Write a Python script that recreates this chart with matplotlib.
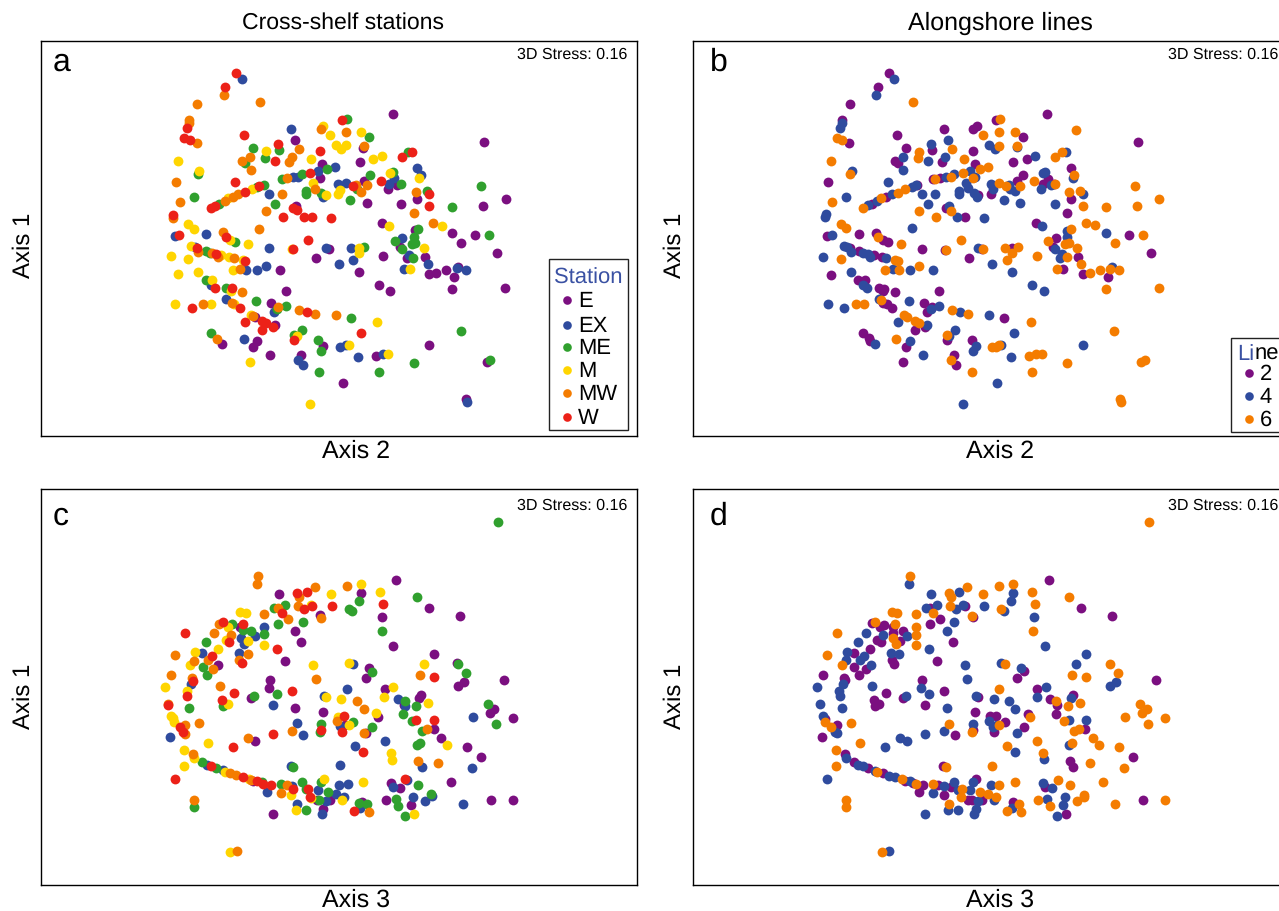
import matplotlib
matplotlib.use("Agg")
import matplotlib.pyplot as plt
from matplotlib.patches import Rectangle
from matplotlib.lines import Line2D

plt.rcParams['font.family'] = ['Liberation Sans', 'DejaVu Sans']
plt.rcParams['text.hinting'] = 'no_hinting'
plt.rcParams['text.hinting_factor'] = 1

W, H = 1279, 911

# values, in arbitrary ordination units (axis 1 runs downward)
a_e = [(730,161),(1003,245),(435,240),(640,264),(630,306),(516,313),(510,353),(641,364),(713,386),(740,376),(650,430),(753,431),(801,418),(999,439),(1067,417),(437,438),
       (697,489),(907,518),(975,526),(934,548),(1041,578),(795,510),(750,560),(824,590),(771,594),(700,587),(499,593),(538,566),(391,630),(627,636),(837,643),(858,640),(889,629),(925,620),(912,651),(906,686),(1066,683),(686,675),(721,692),(407,692),(364,729),(316,770),(374,795),(322,842),(310,862),(216,852),(360,885),(452,884),(518,859),(678,887),(838,854),(1012,907),(580,969),(949,1016)]
a_ex = [(275,57),(424,208),(428,350),(444,352),(503,333),(555,322),(565,372),(589,368),(358,402),(520,411),(802,324),(812,345),(733,355),(718,372),
        (75,527),(169,522),(134,560),(356,565),(527,563),(604,564),(757,534),(777,584),(288,629),(320,629),(347,617),(568,611),(610,601),(761,628),(834,611),(921,624),(947,631),(183,676),(228,716),(372,757),(281,838),(571,860),(587,855),(625,890),(698,881),(443,900),(459,915),(951,1025)]
a_me = [(592,176),(658,231),(310,264),(388,271),(346,294),(144,342),(285,310),(457,342),(532,328),(397,358),(343,374),(320,381),(207,431),(132,410),(375,433),(467,392),(467,402),(512,400),(601,421),(621,388),(660,344),(728,336),(754,372),(775,275),(831,393),(993,379),(907,441),
        (1017,524),(803,508),(791,530),(735,542),(755,566),(795,548),(785,553),(790,593),(643,562),(255,546),(168,574),(180,580),(167,661),(228,685),(318,722),(407,737),(382,748),(604,774),(457,809),(432,824),(182,820),(505,840),(512,872),(932,814),(792,910),(1021,901),(508,936),(686,935)]
a_m = [(519,198),(541,225),(634,217),(558,255),(588,256),(573,266),(347,274),(483,298),(669,297),(696,287),(85,302),(148,334),(721,340),(808,354),(489,369),(306,388),(234,415),(571,390),(563,403),(527,405),(115,492),
       (132,507),(716,497),(875,498),(123,557),(293,551),(426,568),(627,564),(627,579),(822,563),(62,589),(115,596),(212,585),(236,590),(278,600),(248,630),(780,626),(85,643),(144,636),(185,661),(242,693),(76,731),(183,731),(252,732),(304,764),(682,786),(440,827),(596,854),(714,881),(301,907),(481,1031),(241,540)]
a_mw = [(221,104),(141,133),(331,125),(118,180),(118,190),(140,248),(512,207),(589,215),(642,258),(446,267),(299,292),(276,304),(302,329),(427,290),(417,307),(78,365),(90,425),(348,452),(397,402),(496,386),(650,376),(617,375),(634,395),(797,395),(791,458),(848,489),(265,403),(250,410),(224,422),(410,355),(68,473),
        (327,506),(218,517),(145,577),(186,579),(203,590),(252,593),(270,627),(277,697),(159,732),(245,729),(310,769),(448,749),(385,742),(495,761),(558,765),(200,838)]
a_w = [(259,39),(225,81),(112,205),(103,233),(119,241),(283,225),(384,253),(374,304),(511,273),(577,179),(479,338),(256,365),(328,379),(286,397),(183,445),(194,437),(755,292),(787,277),(693,364),(610,378),(838,403),(838,437),(430,445),(442,451),(398,471),(461,471),(486,471),(543,473),(70,464),
       (88,526),(228,532),(141,564),(197,583),(285,602),(474,540),(430,568),(194,685),(245,685),(125,744),(269,744),(286,787),(335,783),(347,790),(335,811),(368,800),(433,840),(633,820),(471,756)]

b_2 = [(267,39),(233,81),(149,133),(127,180),(148,248),(291,225),(433,208),(519,208),(530,199),(587,179),(668,231),(318,264),(397,271),(520,273),(285,302),(293,310),(426,307),(640,306),(680,297),(812,324),(525,313),(85,365),(670,344),(651,364),(728,372),(744,358),(762,372),(573,403),(533,406),(812,418),(740,161),(1014,245),(350,374),(258,410),(215,431),(437,445),(495,471),(802,458),(707,488),(420,353),(400,358),
       (82,528),(177,523),(227,518),(250,540),(263,547),(149,565),(177,574),(223,585),(245,590),(365,566),(435,570),(547,566),(636,564),(508,593),(767,534),(760,560),(835,590),(790,626),(848,643),(923,651),(986,526),(1052,578),(93,644),(175,660),(194,661),(236,685),(252,687),(285,697),(250,693),(417,692),(250,729),(260,733),(277,744),(373,729),(397,742),(380,756),(613,774),(375,800),(344,811),(190,820),(206,835),(211,842),(442,840),(515,840),(319,862),(461,884),(468,915),(309,907)]
b_4 = [(283,57),(229,104),(127,188),(120,205),(393,253),(445,240),(308,292),(383,304),(435,291),(310,329),(155,334),(264,365),(139,410),(347,375),(335,380),(275,403),(367,402),(405,401),(384,433),(230,422),(205,435),(447,437),(471,470),(553,473),(78,463),(76,472),(437,350),(463,342),(510,333),(525,350),(498,368),(505,384),(477,392),(477,402),(521,400),(530,411),(574,372),(580,388),(612,421),(627,376),(630,388),(645,394),(660,430),(568,256),(584,268),(650,262),(705,287),(798,277),(735,337),(730,340),(820,354),(724,387),(752,376),(849,403),(764,431),(727,497),(336,504),
       (97,525),(918,518),(802,512),(800,532),(131,558),(142,560),(152,577),(68,590),(190,580),(205,583),(210,590),(258,593),(535,564),(765,568),(787,583),(781,594),(577,611),(637,636),(279,628),(329,629),(400,630),(152,636),(935,620),(190,675),(202,685),(236,716),(326,722),(84,731),(133,744),(417,737),(393,747),(481,756),(568,765),(294,787),(381,795),(466,809),(448,828),(643,820),(330,842),(224,852),(528,859),(520,872),(604,854),(369,884),(634,890),(849,854),(590,968),(490,1031),(697,676),(731,692)]
b_6 = [(340,125),(112,233),(125,241),(93,302),(151,342),(97,425),(190,445),(242,415),(295,398),(315,387),(356,275),(354,294),(455,267),(492,298),(550,225),(597,215),(601,176),(644,217),(597,257),(652,258),(785,275),(765,292),(828,210),(405,358),(453,351),(488,338),(541,327),(565,322),(518,354),(598,368),(618,377),(661,377),(703,364),(822,345),(765,372),(808,395),(841,393),(849,437),(918,441),(1004,379),(1010,439),(1078,417),(357,452),(407,471),(452,452),(122,491),(139,505),(859,488),(885,495),
       (1028,524),(945,548),(814,508),(745,543),(795,553),(808,548),(832,563),(800,592),(844,611),(771,628),(869,640),(899,629),(931,626),(958,631),(917,686),(1077,683),(302,551),(484,541),(235,532),(122,596),(286,600),(293,602),(255,629),(297,629),(356,617),(615,565),(654,562),(637,579),(710,587),(620,601),(548,566),(437,570),(167,732),(192,731),(243,720),(457,749),(504,761),(312,765),(320,770),(345,783),(356,790),(692,786),(942,814),(442,824),(289,838),(577,860),(587,861),(597,855),(688,887),(708,881),(725,881),(452,900),(802,910),(1023,907),(1034,901),(517,936),(697,935),(961,1016),(963,1025)]

c_e = [(739,210),(838,293),(929,318),(632,250),(388,252),(510,316),(695,320),(434,362),(452,396),(730,409),(851,433),(405,454),(205,464),(657,474),(922,460),(270,350),
       (361,510),(356,535),(647,505),(304,565),(434,595),(518,605),(706,538),(942,515),(923,527),(1062,511),(806,565),(814,555),(762,585),(685,621),(584,644),(647,670),(851,657),(872,684),(1020,610),(1033,598),(1090,625),(951,710),(993,742),(316,692),(904,817),(723,820),(750,833),(310,813),(708,870),(782,884),(1022,870),(1089,870),(500,869),(540,870),(636,875),(520,897),(369,911)]
c_ex = [(343,352),(315,378),(273,384),(281,401),(268,428),(157,430),(610,463),
        (123,522),(591,537),(522,558),(368,586),(743,568),(765,587),(442,640),(459,675),(570,648),(968,622),(60,680),(615,707),(706,694),(965,775),(815,772),(571,766),(423,769),(172,764),(218,780),(426,828),(352,845),(504,840),(568,825),(593,823),(728,832),(770,809),(558,852),(582,862),(528,872),(442,883),(630,895),(516,913),(789,862),(825,873),(847,859),(938,883)]
c_me = [(1043,35),(800,262),(627,272),(596,296),(606,302),(405,284),(371,293),(458,337),(385,341),(247,343),(280,360),(304,363),(341,373),(695,363),(167,397),(158,470),(172,496),(667,485),(923,463),(949,488),
        (311,558),(380,553),(118,595),(218,588),(764,573),(797,588),(760,612),(787,633),(608,635),(514,643),(510,667),(665,651),(816,663),(800,705),(810,700),(430,771),(155,756),(197,773),(804,824),(457,816),(513,816),(393,823),(467,838),(534,847),(1013,581),(1037,643),(737,866),(745,888),(766,918),(843,853),(467,901),(650,883),(628,880),(131,892),(335,815),(506,870)]
c_m = [(632,221),(690,247),(544,252),(482,286),(269,306),(287,310),(233,352),(343,405),(227,390),(293,393),(205,416),(135,427),(119,465),(489,466),(598,458),(821,463),
       (46,531),(110,544),(730,531),(703,560),(574,568),(835,580),(233,583),(63,617),(72,635),(70,623),(564,620),(677,610),(173,700),(101,721),(133,744),(101,769),(724,729),(725,749),(890,705),(225,785),(298,806),(521,806),(640,816),(424,856),(483,863),(577,870),(438,899),(791,913),(239,1027),(528,562),(596,645)]
c_mw = [(325,198),(321,222),(592,228),(496,232),(447,261),(445,288),(385,295),(343,313),(414,327),(512,323),(208,341),(193,370),(243,376),(76,434),(132,452),(175,449),(190,478),(293,433),(268,449),(63,494),
        (127,504),(497,506),(810,496),(211,529),(53,582),(147,638),(105,646),(106,672),(622,572),(641,598),(561,632),(425,663),(295,684),(643,669),(832,656),(129,731),(863,758),(803,753),(240,788),(258,796),(303,809),(410,824),(393,849),(657,905),(132,870),(262,1023)]
c_w = [(105,368),(219,335),(278,342),(395,309),(441,249),(471,247),(487,287),(461,297),(545,287),(700,282),(380,416),(187,438),(236,396),(275,460),
       (129,514),(112,558),(251,550),(215,569),(55,586),(427,542),(852,501),(90,652),(98,666),(370,671),(514,660),(583,618),(577,665),(798,631),(851,630),(248,712),(640,725),(74,808),(184,769),(278,800),(320,813),(340,822),(362,825),(475,838),(430,837),(480,860),(766,807),(613,902)]

d_2 = [(746,210),(844,293),(935,318),(518,322),(421,327),(390,341),(458,396),(412,454),(390,295),(494,287),(215,340),(252,344),(240,352),(278,350),(278,368),(310,363),(300,393),(243,396),(232,390),(211,416),(163,430),(281,461),(275,449),(197,476),(163,471),
       (69,494),(133,503),(177,496),(673,484),(652,503),(367,511),(433,542),(711,538),(135,510),(257,550),(309,565),(222,569),(238,583),(225,588),(374,586),(533,562),(749,568),(771,585),(819,556),(767,613),(1069,511),(524,605),(683,611),(570,618),(588,618),(615,635),(671,651),(856,656),(583,666),(518,660),(464,675),(111,645),(75,627),(66,680),(134,732),(162,756),(205,773),(250,790),(316,813),(340,818),(370,825),(358,845),(415,825),(452,832),(430,769),(528,806),(809,753),(820,771),(1000,742),(734,832),(431,855),(505,869),(515,869),(546,870),(640,877),(1029,870),(797,913)]
d_4 = [(328,222),(394,252),(477,247),(638,250),(632,272),(411,284),(377,293),(467,297),(489,286),(552,287),(613,302),(701,320),(463,337),(440,362),(199,370),(248,375),(320,379),(173,397),(140,427),(137,451),(193,438),(181,450),(212,464),(273,429),(298,433),(387,416),(736,409),(857,433),(827,463),(604,458),(663,474),(495,466),
       (502,506),(52,531),(116,544),(119,558),(128,523),(217,529),(362,535),(386,553),(318,558),(528,559),(581,568),(627,572),(646,598),(441,595),(125,595),(60,583),(68,617),(737,531),(710,560),(813,565),(948,515),(930,527),(857,629),(806,631),(567,632),(590,644),(578,650),(520,642),(431,663),(376,671),(652,669),(105,666),(112,670),(301,684),(321,692),(254,712),(646,725),(808,705),(732,748),(138,744),(175,764),(188,768),(225,782),(266,797),(284,800),(330,813),(432,828),(462,816),(519,815),(474,840),(510,840),(574,825),(400,848),(81,808),(729,820),(757,833),(742,866),(795,861),(788,884),(772,918),(583,870),(535,873),(445,899),(473,901),(527,897),(521,913),(636,895),(375,911),(268,1023)]
d_6 = [(1048,35),(331,198),(638,221),(598,228),(502,232),(447,249),(453,261),(549,252),(696,247),(807,262),(706,282),(451,288),(602,297),(276,306),(292,310),(349,313),(400,309),(515,317),(225,335),(284,342),(111,368),(348,352),(347,374),(700,364),(348,405),(278,384),(287,401),(82,434),(125,465),(616,463),(929,462),
       (955,488),(815,496),(858,500),(597,537),(769,574),(803,588),(840,580),(1019,581),(1040,598),(1025,610),(975,622),(1096,625),(1043,643),(792,633),(822,662),(838,656),(878,684),(896,705),(816,700),(711,694),(621,707),(730,729),(958,711),(971,775),(869,758),(577,767),(438,771),(179,700),(107,721),(107,768),(153,638),(76,635),(93,650),(448,641),(515,666),(598,646),(690,622),(231,785),(305,807),(348,822),(400,823),(774,809),(646,816),(598,824),(810,824),(909,817),(486,838),(484,860),(540,847),(563,852),(588,862),(713,870),(750,888),(830,873),(851,855),(853,861),(944,883),(1095,870),(656,883),(663,905),(620,902),(448,883),(137,870),(137,892),(245,1026)]

stations = ['E', 'EX', 'ME', 'M', 'MW', 'W']
lines = ['2', '4', '6']
purple, blue, green, yellow, orange, red = '#7b0f80', '#2f4b9e', '#30a02e', '#ffd500', '#f47c00', '#ec2118'
station_colors = [purple, blue, green, yellow, orange, red]
line_colors = [purple, blue, orange]


def px_box(x0, y0, x1, y1):
    return [x0 / W, 1 - y1 / H, (x1 - x0) / W, (y1 - y0) / H]


def ftext(x, y, s, **kw):
    kw.setdefault('ha', 'center')
    kw.setdefault('va', 'center')
    return fig.text(x / W, 1 - y / H, s, **kw)


def panel(box, xlim, ylim, groups, colors, letter, lx, ly, sx, sy):
    ax = fig.add_axes(px_box(*box))
    for pts, c in zip(groups, colors):
        xs, ys = zip(*pts)
        ax.scatter(xs, ys, s=50, c=c, linewidths=0)
    ax.set_xlim(xlim)
    ax.set_ylim(ylim)
    ax.set_xticks([])
    ax.set_yticks([])
    for sp in ax.spines.values():
        sp.set_linewidth(1.0)
    ftext(lx, ly, letter, fontsize=23, ha='left')
    ftext(sx, sy, '3D Stress: 0.16', fontsize=11.8, ha='right')
    return ax


def key(x0, y0, x1, y1, labels, colors, ys, mx, tx):
    fig.add_artist(Rectangle((x0 / W, 1 - y1 / H), (x1 - x0) / W, (y1 - y0) / H,
                             transform=fig.transFigure, fc='white', ec='#222222', lw=1.0, zorder=5))
    for lab, c, y in zip(labels, colors, ys):
        fig.add_artist(Line2D([mx / W], [1 - y / H], transform=fig.transFigure, marker='o', ms=6.2,
                              mfc=c, mec=c, mew=0, ls='', zorder=6))
        ftext(tx, y + 1, lab, fontsize=16, ha='left', zorder=6)


fig = plt.figure(figsize=(W / 100, H / 100), dpi=100)

panel((41, 41, 637, 436), (-327, 1461), (1128, -57), [a_e, a_ex, a_me, a_m, a_mw, a_w], station_colors, 'a', 53, 62, 627, 55)
panel((693, 41, 1289, 436), (-321, 1467), (1128, -57), [b_2, b_4, b_6], line_colors, 'b', 710, 62, 1278, 55)
panel((41, 489, 637, 885), (-327, 1461), (1125, -63), [c_e, c_ex, c_me, c_m, c_mw, c_w], station_colors, 'c', 53, 516, 627, 506)
panel((693, 489, 1289, 885), (-321, 1467), (1125, -63), [d_2, d_4, d_6], line_colors, 'd', 710, 516, 1278, 506)

ftext(343, 23, 'Cross-shelf stations', fontsize=16.3)
ftext(1000, 23, 'Alongshore lines', fontsize=18.2)
for x, y in [(356, 451), (1000, 451)]:
    ftext(x, y, 'Axis 2', fontsize=18.2)
for x, y in [(356, 900), (1000, 900)]:
    ftext(x, y, 'Axis 3', fontsize=18.2)
for x, y in [(24, 245), (675, 245), (24, 696), (675, 696)]:
    ftext(x, y, 'Axis 1', fontsize=17.5, rotation=90)

key(549, 259, 628, 430, stations, station_colors, [300, 325, 347, 370, 393, 417], 567, 578)
ftext(554, 278, 'Station', fontsize=16, ha='left', color='#3a51a3', zorder=6)

key(1231, 338, 1290, 432, lines, line_colors, [373, 396, 419], 1249, 1260)
ftext(1237, 354, 'Li', fontsize=16, ha='left', color='#3a51a3', zorder=6)
ftext(1255, 354, 'ne', fontsize=16, ha='left', zorder=6)

fig.savefig('out.png', dpi=100)
